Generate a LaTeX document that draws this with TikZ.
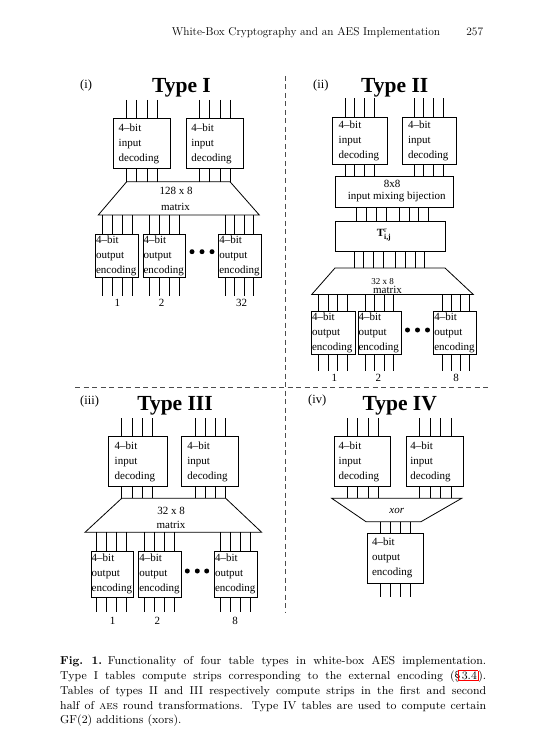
\documentclass[tikz,border=0pt]{standalone}
\usepackage{fontspec}
\usepackage{amsmath}
\newfontfamily\tms{Liberation Serif}
\newfontfamily\capfont[BoldFont=lmroman9-bold.otf]{lmroman9-regular.otf}
\newfontfamily\capsc{lmromancaps10-regular.otf}
\newcommand\jl[1]{\makebox[426pt][s]{#1}}
\newcommand\redbox[1]{{\setlength\fboxsep{0.8pt}\setlength\fboxrule{0.6pt}\textcolor{red}{\fbox{\textcolor{black}{#1}}}}}
\newcommand\wires[3]{\foreach \wx in {#3}{\draw[wire] (\wx,0 |- #1) -- (\wx,0 |- #2);}}
\begin{document}
\begin{tikzpicture}[x=1pt,y=-1pt,
 wire/.style={line width=0.9pt},
 tbl/.style={draw, line width=0.8pt, anchor=north west, align=left, inner ysep=0pt, font=\tms\fontsize{11}{15}\selectfont},
 plainbox/.style={draw, line width=0.8pt, anchor=north west, inner sep=0pt},
 tline/.style={line width=0.8pt, line join=miter},
 lbl/.style={font=\tms\fontsize{11}{13}\selectfont, inner sep=0pt, anchor=base},
 ttl/.style={font=\tms\bfseries\fontsize{21.5}{24}\selectfont, inner sep=0pt, anchor=base},
 sublbl/.style={font=\tms\fontsize{12.5}{14}\selectfont, inner sep=0pt, anchor=base west},
 sepline/.style={dash pattern=on 5pt off 3.5pt, line width=0.9pt, black!70},
 bigdot/.style={circle, fill, inner sep=0pt, minimum size=5pt},
]
\fill[white] (0,0) rectangle (534,754);
\useasboundingbox (0,0) rectangle (534,754);

% header
\node[anchor=base west, inner sep=0pt, font=\fontsize{11.4}{13}\selectfont] (hdr) at (171.7,36) {White-Box Cryptography and an AES Implementation};
\node[anchor=base east, inner sep=0pt, font=\fontsize{11.4}{13}\selectfont] (pg) at (483.3,36) {257};

% separators
\coordinate (vs1) at (285.5,76);
\coordinate (vs2) at (285.5,612);
\coordinate (hs1) at (75,387.5);
\coordinate (hs2) at (488,387.5);
\draw[sepline] (vs1) -- (vs2);
\draw[sepline] (hs1) -- (hs2);

% ================= Type I
\node[sublbl] (lab1) at (80,89) {(i)};
\node[ttl] (ttl1) at (181.5,92.5) {Type I};
\coordinate (t1in) at (0,100);
\node[tbl, text width=47pt, inner xsep=5pt, minimum height=49.7pt] (i1a) at (113.3,118.3) {4–bit\\input\\decoding};
\node[tbl, text width=47pt, inner xsep=5pt, minimum height=49.7pt] (i1b) at (186,118.3) {4–bit\\input\\decoding};
\coordinate (m1tl) at (126.7,181.7);
\coordinate (m1tr) at (230,181.7);
\coordinate (m1br) at (259.3,215);
\coordinate (m1bl) at (98.3,215);
\draw[tline] (m1tl) -- (m1tr) -- (m1br) -- (m1bl) -- cycle;
\node[lbl] (m1a) at (176,194) {128 x 8};
\node[lbl] (m1b) at (175.5,210) {matrix};
\node[tbl, text width=42.1pt, inner xsep=0.6pt, minimum height=43.5pt] (o1a) at (95,233.5) {4–bit\\output\\encoding};
\node[tbl, text width=41.3pt, inner xsep=0.6pt, minimum height=43.5pt] (o1b) at (142.5,233.5) {4–bit\\output\\encoding};
\node[tbl, text width=41.5pt, inner xsep=0.6pt, minimum height=43.5pt] (o1c) at (218.3,233.5) {4–bit\\output\\encoding};
\node[bigdot] (d1a) at (192,251.7) {};
\node[bigdot] (d1b) at (202,251.7) {};
\node[bigdot] (d1c) at (212,251.7) {};
\coordinate (t1out) at (0,296);
\node[lbl] (n1a) at (117.3,306.5) {1};
\node[lbl] (n1b) at (161.7,306.5) {2};
\node[lbl] (n1c) at (241.7,306.5) {32};
\wires{t1in}{i1a.north}{126.7,136.7,147,157.3}
\wires{t1in}{i1b.north}{199.3,209.3,220,230}
\wires{i1a.south}{m1tl}{126.7,136.7,147,157.3}
\wires{i1b.south}{m1tl}{199.3,209.3,220,230}
\wires{m1bl}{o1a.north}{102,112,122,132}
\wires{m1bl}{o1b.north}{149,159,169,179}
\wires{m1bl}{o1c.north}{225,234.5,244,253.5}
\wires{o1a.south}{t1out}{102,112,122,132}
\wires{o1b.south}{t1out}{149,159,169,179}
\wires{o1c.south}{t1out}{225,234.5,244,253.5}

% ================= Type II
\node[sublbl] (lab2) at (313,89) {(ii)};
\node[ttl] (ttl2) at (394.7,92.5) {Type II};
\coordinate (t2in) at (0,98.3);
\node[tbl, text width=42.4pt, inner xsep=6pt, minimum height=47.6pt] (i2a) at (332.3,116.7) {4–bit\\input\\decoding};
\node[tbl, text width=42.3pt, inner xsep=6pt, minimum height=47.6pt] (i2b) at (401.7,116.7) {4–bit\\input\\decoding};
\node[plainbox, minimum width=117.7pt, minimum height=30.7pt] (mix) at (335,176) {};
\node[lbl] (mixa) at (392.2,187.7) {8x8};
\node[lbl] (mixb) at (396.7,199) {input mixing bijection};
\node[plainbox, minimum width=110pt, minimum height=30pt] (tb) at (335,221) {};
\node[lbl] (tlab) at (384,236.7) {\textbf{T}$^{\text{r}}_{\textbf{i,j}}$};
\coordinate (m2tl) at (335,268);
\coordinate (m2tr) at (445,268);
\coordinate (m2br) at (473.3,294.5);
\coordinate (m2bl) at (311.7,294.5);
\draw[tline] (m2tl) -- (m2tr) -- (m2br) -- (m2bl) -- cycle;
\node[lbl, font=\tms\fontsize{9}{10}\selectfont] (m2a) at (382.5,284.3) {32 x 8};
\node[lbl] (m2b) at (387.5,293.5) {matrix};
\node[tbl, text width=42.8pt, inner xsep=0.6pt, minimum height=43pt] (o2a) at (311,311) {4–bit\\output\\encoding};
\node[tbl, text width=41.8pt, inner xsep=0.6pt, minimum height=43pt] (o2b) at (357.5,311) {4–bit\\output\\encoding};
\node[tbl, text width=41.5pt, inner xsep=0.6pt, minimum height=43pt] (o2c) at (433.3,311) {4–bit\\output\\encoding};
\node[bigdot] (d2a) at (407.5,330) {};
\node[bigdot] (d2b) at (417.5,330) {};
\node[bigdot] (d2c) at (427.5,330) {};
\coordinate (t2out) at (0,371);
\node[lbl] (n2a) at (334.3,381.7) {1};
\node[lbl] (n2b) at (378.3,381.7) {2};
\node[lbl] (n2c) at (456,381.7) {8};
\wires{t2in}{i2a.north}{345,354.3,364.3,374.3}
\wires{t2in}{i2b.north}{414,423.3,433.3,443.3}
\wires{i2a.south}{mix.north}{345,354.3,364.3,374.3}
\wires{i2b.south}{mix.north}{414,423.3,433.3,443.3}
\wires{mix.south}{tb.north}{356.7,366.7,376.7,386.7,399.3,409.3,418.3,428}
\wires{tb.south}{m2tl}{354,363.3,373.3,383.3,395.5,405,415,424.3}
\wires{m2bl}{o2a.north}{318.5,328,337.5,347.5}
\wires{m2bl}{o2b.north}{365.5,374.5,384,393}
\wires{m2bl}{o2c.north}{442,451,460,469}
\wires{o2a.south}{t2out}{318.5,328,337.5,347.5}
\wires{o2b.south}{t2out}{365.5,374.5,384,393}
\wires{o2c.south}{t2out}{442,451,460,469}

% ================= Type III
\node[sublbl] (lab3) at (80,404) {(iii)};
\node[ttl] (ttl3) at (175,410.5) {Type III};
\coordinate (t3in) at (0,418.3);
\node[tbl, text width=46.4pt, inner xsep=6pt, minimum height=50pt] (i3a) at (108.3,436) {4–bit\\input\\decoding};
\node[tbl, text width=45.3pt, inner xsep=6pt, minimum height=50pt] (i3b) at (181,436) {4–bit\\input\\decoding};
\coordinate (m3tl) at (121.7,498.3);
\coordinate (m3tr) at (225.7,498.3);
\coordinate (m3br) at (261.7,532.3);
\coordinate (m3bl) at (85,532.3);
\draw[tline] (m3tl) -- (m3tr) -- (m3br) -- (m3bl) -- cycle;
\node[lbl] (m3a) at (171.2,514) {32 x 8};
\node[lbl] (m3b) at (171,528.3) {matrix};
\node[tbl, text width=41.4pt, inner xsep=0.6pt, minimum height=46pt] (o3a) at (90.7,550.7) {4–bit\\output\\encoding};
\node[tbl, text width=41.5pt, inner xsep=0.6pt, minimum height=46pt] (o3b) at (138.3,550.7) {4–bit\\output\\encoding};
\node[tbl, text width=41.5pt, inner xsep=0.6pt, minimum height=46pt] (o3c) at (214,550.7) {4–bit\\output\\encoding};
\node[bigdot] (d3a) at (187.3,571) {};
\node[bigdot] (d3b) at (197.3,571) {};
\node[bigdot] (d3c) at (206.7,571) {};
\coordinate (t3out) at (0,611.7);
\node[lbl] (n3a) at (112.7,624) {1};
\node[lbl] (n3b) at (157.3,624) {2};
\node[lbl] (n3c) at (235,624) {8};
\wires{t3in}{i3a.north}{121.7,132.3,142.7,152.7}
\wires{t3in}{i3b.north}{195,205,215.7,225.7}
\wires{i3a.south}{m3tl}{121.7,132.3,142.7,152.7}
\wires{i3b.south}{m3tl}{195,205,215.7,225.7}
\wires{m3bl}{o3a.north}{96.7,106.7,116.7,126.7}
\wires{m3bl}{o3b.north}{144,154,164,174}
\wires{m3bl}{o3c.north}{220,230,240,250}
\wires{o3a.south}{t3out}{96.7,106.7,116.7,126.7}
\wires{o3b.south}{t3out}{144,154,164,174}
\wires{o3c.south}{t3out}{220,230,240,250}

% ================= Type IV
\node[sublbl] (lab4) at (308,403) {(iv)};
\node[ttl] (ttl4) at (399.7,410.5) {Type IV};
\coordinate (t4in) at (0,418.3);
\node[tbl, text width=47.7pt, inner xsep=4pt, minimum height=50pt] (i4a) at (334.3,436) {4–bit\\input\\decoding};
\node[tbl, text width=49.3pt, inner xsep=4pt, minimum height=50pt] (i4b) at (406,436) {4–bit\\input\\decoding};
\coordinate (x4tl) at (331.7,498.3);
\coordinate (x4tr) at (461.7,498.3);
\coordinate (x4br) at (421,521.7);
\coordinate (x4bl) at (366,521.7);
\draw[tline] (x4tl) -- (x4tr) -- (x4br) -- (x4bl) -- cycle;
\node[lbl, font=\tms\itshape\fontsize{11}{13}\selectfont] (x4) at (396.7,513.3) {xor};
\node[tbl, text width=46.6pt, inner xsep=5pt, minimum height=50pt] (o4) at (366.7,532.7) {4–bit\\output\\encoding};
\coordinate (t4out) at (0,596.7);
\wires{t4in}{i4a.north}{347.3,357.7,368.3,378.3}
\wires{t4in}{i4b.north}{419.3,430,440.7,451}
\wires{i4a.south}{x4tl}{347.3,357.7,368.3,378.3}
\wires{i4b.south}{x4tl}{419.3,430,440.7,451}
\wires{x4bl}{o4.north}{380,390,400,410.5}
\wires{o4.south}{t4out}{380,390,400,410.5}

% caption
\node[anchor=north west, inner sep=0pt, align=left, font=\capfont\fontsize{11.5}{14.8}\selectfont] (cap) at (60,656.2) {%
\jl{\textbf{Fig.~1.}\enspace Functionality of four table types in white-box AES implementation.}\\
\jl{Type I tables compute strips corresponding to the external encoding (\S\kern-2pt\redbox{\kern2pt 3.4}).}\\
\jl{Tables of types II and III respectively compute strips in the first and second}\\
\jl{half of {\capsc aes} round transformations. Type IV tables are used to compute certain}\\
GF(2) additions (xors).};
\end{tikzpicture}
\end{document}
